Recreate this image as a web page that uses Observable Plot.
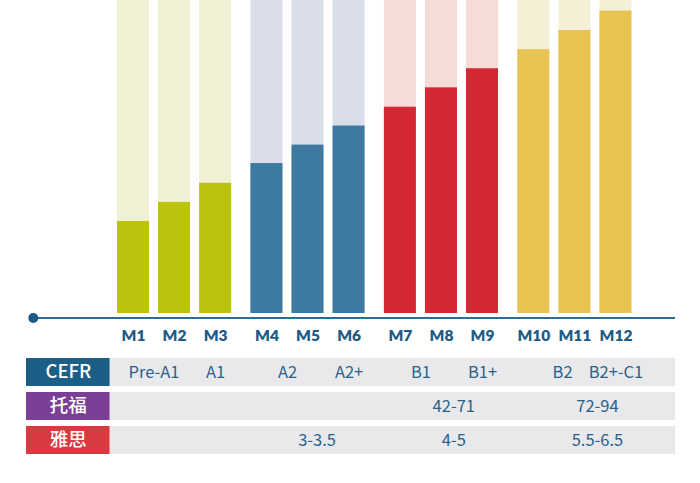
<!DOCTYPE html>
<html><head><meta charset="utf-8">
<script src="https://cdn.jsdelivr.net/npm/d3@7"></script>
<script src="https://cdn.jsdelivr.net/npm/@observablehq/plot@0.6"></script>
<style>body{margin:0;background:#fff} svg{display:block}</style>
</head><body><div id="chart"></div>
<script>
// ---- data ----
const months = ["M1","M2","M3","M4","M5","M6","M7","M8","M9","M10","M11","M12"];
const levels = [29.4, 35.5, 41.6, 47.9, 53.8, 59.9, 65.9, 72.1, 78.2, 84.3, 90.4, 96.6];
const fullLevel = 100;
const groupOf = [0,0,0,1,1,1,2,2,2,3,3,3];
const groupColors = ["#bac30d","#3e79a0","#d52834","#e7c352"];
const groupLight = ["#f0f0d3","#d9dee9","#f5dcd6","#f3f0d5"];

const tableRows = ["CEFR","托福","雅思"];
const rowColors = ["#1b5e86","#7b3f97","#d93a40"];
const cefrLabels = ["Pre-A1","A1","A2","A2+","B1","B1+","B2","B2+-C1"];
const cefrAt = [1.5, 3, 4.5, 6, 7.5, 9, 10.7, 12];      // month position (1-based)
const toeflLabels = ["42-71","72-94"];
const toeflAt = [8.3, 11.55];
const ieltsLabels = ["3-3.5","4-5","5.5-6.5"];
const ieltsAt = [5.22, 8.3, 11.55];

// ---- layout helpers ----
const GROUP_GAP = 0.25;
const slot = i => i + Math.floor(i / 3) * GROUP_GAP;
const pos = m => { const a = Math.floor(m - 1), f = (m - 1) - a; return f === 0 ? slot(a) : slot(a) + f * (slot(a + 1) - slot(a)); };
const HALF = 0.39;
const X_DOMAIN = [-3.239, 13.809];
const AXIS_START = -2.44, AXIS_END = 13.2;
const HEAD_L = -2.606, HEAD_R = -0.57, BODY_L = -0.56, BODY_R = 13.2;

const bars = months.map((m, i) => ({month: m, p: slot(i), level: levels[i], g: groupOf[i]}));

const chart = Plot.plot({
  width: 700, height: 350,
  marginTop: 0, marginBottom: 37, marginLeft: 0, marginRight: 0,
  x: {domain: X_DOMAIN, axis: null},
  y: {domain: [0, 100], axis: null},
  color: {type: "identity"},
  marks: [
    Plot.rectY(bars, {x1: d => d.p - HALF, x2: d => d.p + HALF, y1: 0, y2: fullLevel, fill: d => groupLight[d.g]}),
    Plot.rectY(bars, {x1: d => d.p - HALF, x2: d => d.p + HALF, y1: 0, y2: "level", fill: d => groupColors[d.g]}),
    Plot.ruleY([0], {x1: AXIS_START, x2: AXIS_END, dy: 4.5, stroke: "#2a6d96", strokeWidth: 2}),
    Plot.dot([0], {x: AXIS_START, y: 0, dy: 4.5, r: 5, fill: "#1b5a84", stroke: "none"}),
    Plot.text(bars, {x: "p", y: 0, dy: 23, text: "month", fill: "#1d5b86", fontSize: 15.5, fontWeight: 800, fontFamily: "Lato", letterSpacing: "-0.7px"})
  ]
});

const bodyText = [
  ...cefrLabels.map((t, i) => ({row: "CEFR", t, p: pos(cefrAt[i])})),
  ...toeflLabels.map((t, i) => ({row: "托福", t, p: pos(toeflAt[i])})),
  ...ieltsLabels.map((t, i) => ({row: "雅思", t, p: pos(ieltsAt[i])}))
];

const table = Plot.plot({
  width: 700, height: 133,
  marginTop: 1.5, marginBottom: 23, marginLeft: 0, marginRight: 0,
  x: {domain: X_DOMAIN, axis: null},
  y: {domain: tableRows, axis: null, padding: 0.19},
  color: {type: "identity"},
  marks: [
    Plot.barX(tableRows, {x1: BODY_L, x2: BODY_R, y: d => d, fill: "#e9e9eb"}),
    Plot.barX(tableRows, {x1: HEAD_L, x2: HEAD_R, y: d => d, fill: (d, i) => rowColors[i]}),
    Plot.text(tableRows, {x: (HEAD_L + HEAD_R) / 2, y: d => d, text: d => d, fill: "white", fontSize: 18.5, fontFamily: "Noto Sans CJK SC", fontWeight: 500}),
    Plot.text(bodyText, {x: "p", y: "row", text: "t", fill: "#2b628b", fontSize: 16.5, fontFamily: "Noto Sans CJK SC"})
  ]
});

document.getElementById("chart").append(chart, table);
</script>
</body></html>
